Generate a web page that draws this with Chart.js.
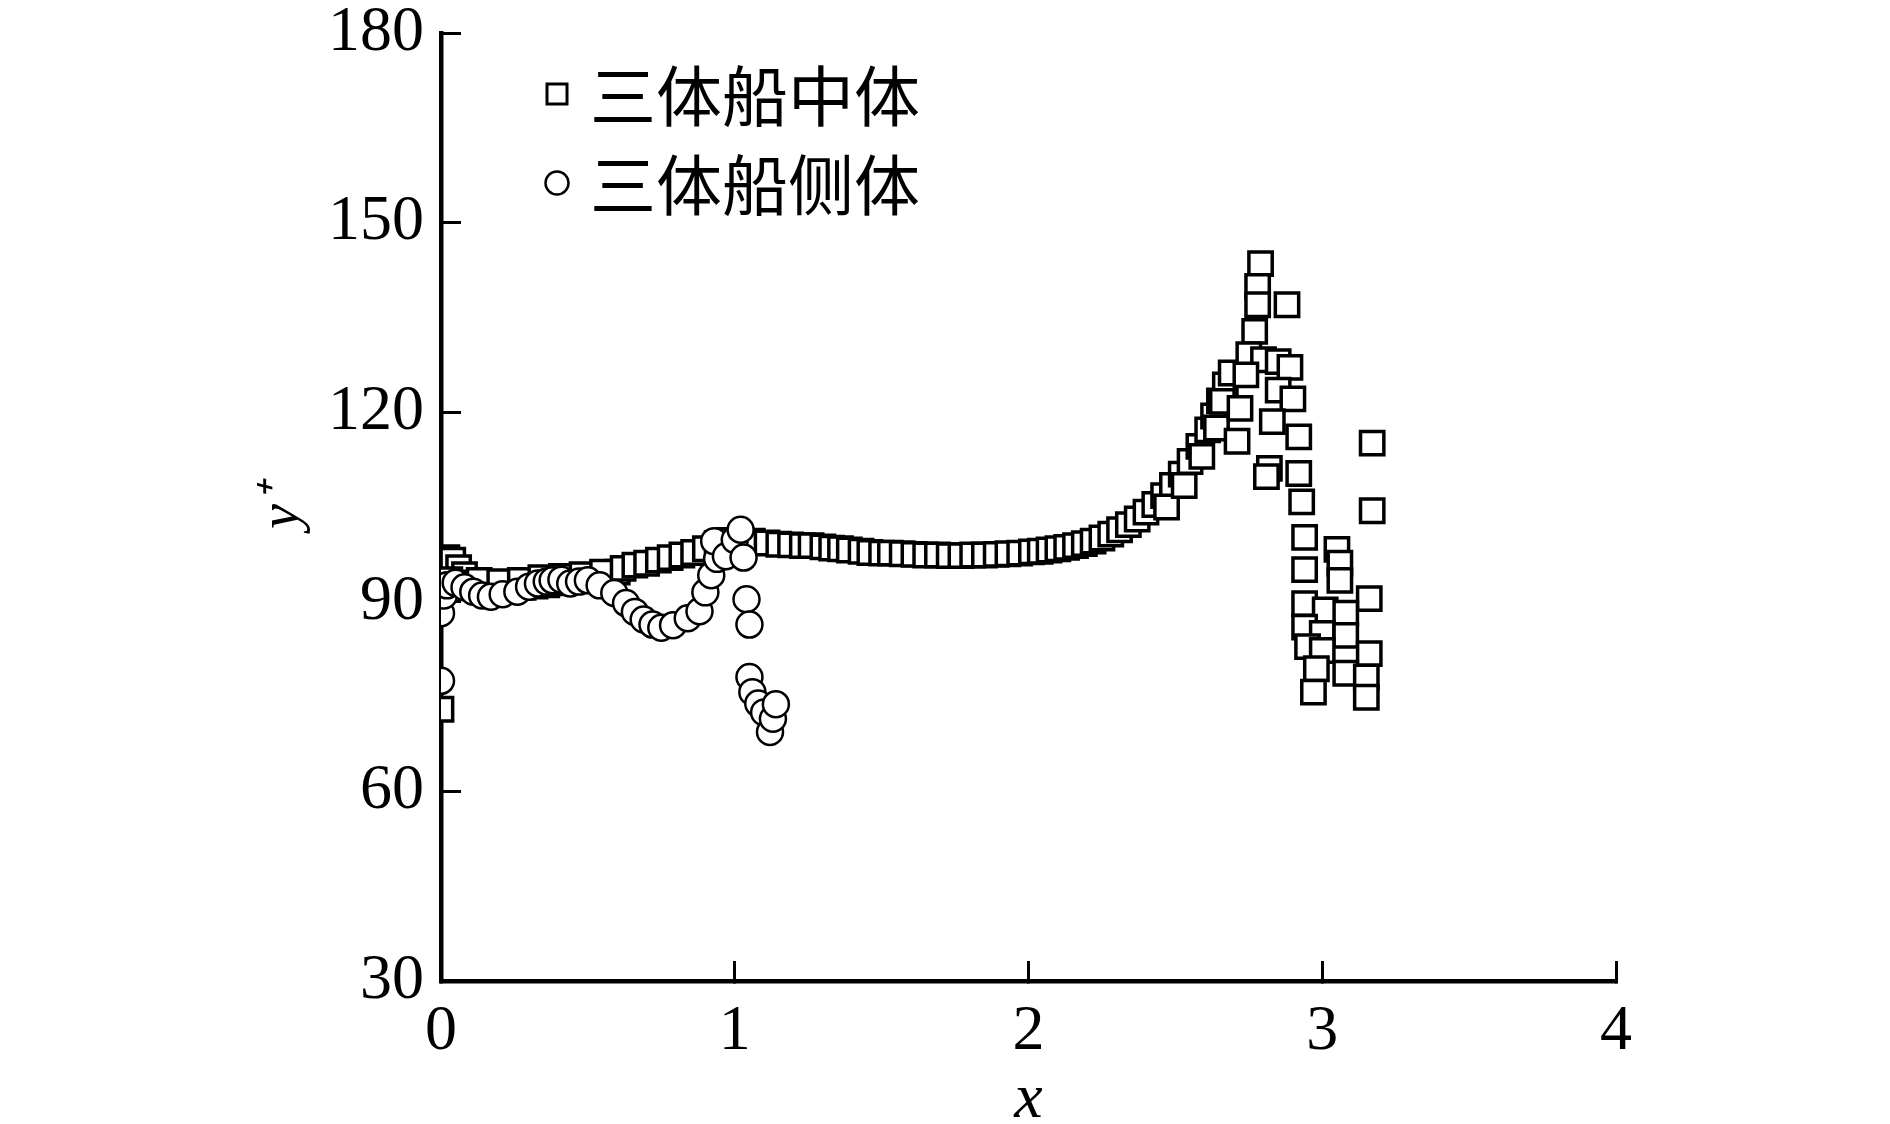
<!DOCTYPE html>
<html>
<head>
<meta charset="utf-8">
<script src="https://cdn.jsdelivr.net/npm/chart.js"></script>
<style>
  body { margin: 0; background: #fff; }
</style>
</head>
<body>
<canvas id="chart" width="1890" height="1124"></canvas>
<script>
// 三体船中体 (squares)
const midX = [
  0.00, 0.01, 0.02, 0.04, 0.06, 0.08, 0.03, 0.11, 0.14, 0.17, 0.20, 0.24, 0.28, 0.32, 0.36, 0.40,
  0.44, 0.48, 0.52, 0.56, 0.60, 0.13, 0.20, 0.27, 0.34, 0.41, 0.48, 0.55, 0.62, 0.66, 0.70, 0.74,
  0.78, 0.82, 0.86, 0.90, 0.94, 0.98, 1.02, 1.06, 1.11, 1.15, 1.19, 1.23, 1.26, 1.30, 1.33, 1.36,
  1.39, 1.43, 1.46, 1.50, 1.53, 1.57, 1.61, 1.65, 1.69, 1.73, 1.77, 1.81, 1.85, 1.89, 1.93, 1.97,
  2.01, 2.04, 2.07, 2.10, 2.13, 2.16, 2.19, 2.22, 2.25, 2.28, 2.31, 2.34, 2.37, 2.40, 2.43, 2.46,
  2.49, 2.52, 2.55, 2.58, 2.61, 2.63, 2.65, 2.67, 2.69, 2.47, 2.53, 2.59, 2.64,
  2.79, 2.78, 2.78, 2.88, 2.77, 2.75, 2.80, 2.85, 2.89, 2.74, 2.85, 2.90, 2.66, 2.72, 2.83, 2.92,
  2.71, 2.82, 2.81, 2.92, 2.93, 3.17, 3.17, 2.94, 2.94, 3.05, 3.06, 3.06, 3.16, 2.94, 3.01, 3.08,
  2.94, 3.00, 3.08, 2.95, 3.00, 3.16, 2.98, 3.08, 3.15, 2.97, 3.15
]
const midY = [
  73.0, 95.5, 97.0, 96.6, 95.4, 94.3, 93.5, 93.0, 92.6, 92.0, 91.7, 91.9, 92.3, 92.5, 92.7, 93.0,
  93.3, 93.6, 94.0, 94.3, 94.7, 93.4, 93.2, 93.4, 93.8, 94.0, 94.3, 94.7, 95.3, 95.8, 96.1, 96.6,
  97.0, 97.4, 97.8, 98.4, 99.2, 99.7, 99.8, 99.6, 99.3, 99.1, 99.0, 98.9, 98.9, 98.7, 98.5, 98.4,
  98.2, 98.0, 97.8, 97.7, 97.7, 97.6, 97.5, 97.4, 97.4, 97.3, 97.3, 97.4, 97.4, 97.5, 97.6, 97.7,
  97.9, 98.0, 98.2, 98.4, 98.6, 98.9, 99.2, 99.6, 100.1, 100.7, 101.4, 102.2, 103.1, 104.2, 105.4, 106.8,
  108.4, 110.2, 112.2, 114.6, 117.2, 119.4, 121.8, 124.3, 126.2, 105.0, 108.4, 113.0, 117.5,
  143.5, 139.9, 137.0, 137.0, 132.8, 129.1, 128.3, 128.0, 127.1, 125.9, 123.5, 122.1, 121.7, 120.6, 118.5, 116.1,
  115.4, 111.1, 109.8, 110.3, 105.8, 115.1, 104.4, 100.2, 95.1, 98.3, 96.1, 93.4, 90.5, 89.7, 88.7, 88.2,
  86.0, 85.0, 84.7, 82.9, 82.3, 81.8, 79.4, 78.7, 78.1, 75.7, 74.9
]

// 三体船侧体 (circles)
const sideX = [
  0.00, 0.00, 0.01, 0.02, 0.05, 0.08, 0.11, 0.14, 0.17, 0.21, 0.26, 0.30, 0.33, 0.36, 0.38, 0.41,
  0.44, 0.47, 0.50, 0.54, 0.59, 0.63, 0.66, 0.69, 0.72, 0.75, 0.79, 0.84, 0.88, 0.90, 0.92, 0.94,
  0.93, 0.97, 1.00, 1.02, 1.03, 1.04, 1.05, 1.05, 1.06, 1.08, 1.10, 1.12, 1.13, 1.14
]
const sideY = [
  77.5, 88.2, 91.0, 92.6, 93.0, 92.3, 91.6, 91.0, 90.8, 91.2, 91.6, 92.4, 92.9, 93.2, 93.4, 93.5,
  92.9, 93.2, 93.4, 92.6, 91.4, 89.8, 88.4, 87.2, 86.4, 85.9, 86.3, 87.4, 88.5, 91.5, 94.2, 96.8,
  99.6, 97.2, 99.8, 101.4, 97.0, 90.4, 86.4, 78.1, 75.7, 73.9, 72.5, 69.4, 71.5, 73.8
]

const seriesNames = ['三体船中体', '三体船侧体']
const xTicks = [0, 1, 2, 3, 4]
const yTicks = [30, 60, 90, 120, 150, 180]

const toPoints = (xs, ys) => xs.map((x, i) => ({ x: x, y: ys[i] }))

const serif = '"Liberation Serif", "Times New Roman", serif'

// legend drawn inside the plot area, top left
const innerLegend = {
  id: 'innerLegend',
  afterDraw(chart) {
    const ctx = chart.ctx
    const rows = [94, 183]
    const mx = 557
    ctx.save()
    ctx.strokeStyle = '#000'
    ctx.fillStyle = '#fff'
    ctx.lineWidth = 3
    ctx.fillRect(mx - 10, rows[0] - 10, 20, 20)
    ctx.strokeRect(mx - 10, rows[0] - 10, 20, 20)
    ctx.beginPath()
    ctx.arc(mx, rows[1], 11.5, 0, Math.PI * 2)
    ctx.fill()
    ctx.lineWidth = 2.5
    ctx.stroke()
    ctx.fillStyle = '#000'
    ctx.font = '66px "Noto Sans CJK SC"'
    ctx.textBaseline = 'middle'
    ctx.textAlign = 'left'
    seriesNames.forEach((name, i) => ctx.fillText(name, 590, rows[i] + 2))
    ctx.restore()
  }
}

const data = {
  datasets: [{
    label: seriesNames[0],
    data: toPoints(midX, midY),
    pointStyle: 'rect',
    pointRadius: 16.5,
    pointBorderWidth: 3.5,
    borderColor: '#000',
    backgroundColor: '#fff',
    order: 1
  }, {
    label: seriesNames[1],
    data: toPoints(sideX, sideY),
    pointStyle: 'circle',
    pointRadius: 13,
    pointBorderWidth: 2.5,
    borderColor: '#000',
    backgroundColor: '#fff',
    order: 0
  }]
}

const config = {
  type: 'scatter',
  data: data,
  plugins: [innerLegend],
  options: {
    responsive: false,
    animation: false,
    layout: { padding: { left: 0, top: 33, right: 274, bottom: 0 } },
    plugins: {
      legend: { display: false },
      tooltip: { enabled: false }
    },
    scales: {
      x: {
        type: 'linear',
        min: 0,
        max: 4,
        afterBuildTicks: s => { s.ticks = xTicks.map(v => ({ value: v })) },
        afterFit: s => { s.height = 143; s.paddingLeft = 0; s.paddingRight = 0 },
        border: { display: true, color: '#000', width: 4.5 },
        grid: { drawOnChartArea: false, drawTicks: true, tickLength: -20, tickWidth: 3, tickColor: '#000' },
        ticks: { color: '#000', padding: 39, font: { family: serif, size: 64, lineHeight: 1 } },
        title: {
          display: true,
          text: 'x',
          color: '#000',
          padding: 0,
          font: { family: serif, size: 64, style: 'italic', lineHeight: 0.75 }
        }
      },
      y: {
        type: 'linear',
        min: 30,
        max: 180,
        afterBuildTicks: s => { s.ticks = yTicks.map(v => ({ value: v })) },
        afterFit: s => { s.width = 441; s.paddingTop = 0; s.paddingBottom = 0 },
        border: { display: true, color: '#000', width: 4.5 },
        grid: { drawOnChartArea: false, drawTicks: true, tickLength: -20, tickWidth: 3, tickColor: '#000' },
        ticks: { color: '#000', padding: 37, font: { family: serif, size: 64, lineHeight: 1 } },
        title: {
          display: true,
          text: 'y⁺',
          color: '#000',
          padding: { top: 255, bottom: 0 },
          font: { family: serif, size: 56, style: 'italic', lineHeight: 1 }
        }
      }
    }
  }
}

new Chart(document.getElementById('chart'), config)
</script>
</body>
</html>
